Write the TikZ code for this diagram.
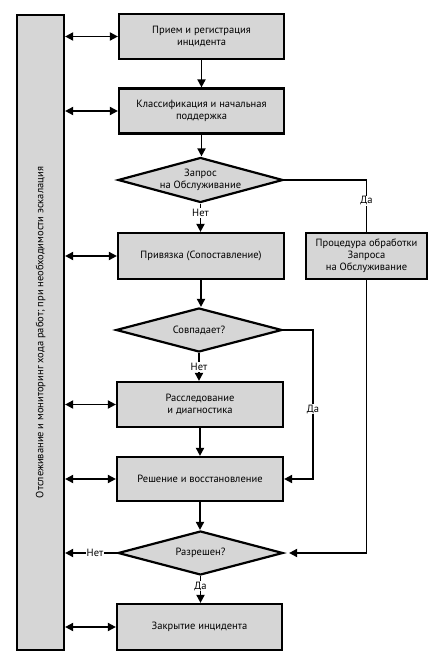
\documentclass[tikz,border=0pt]{standalone}
\usepackage{fontspec}
\setmainfont{PT Sans}
\usetikzlibrary{arrows.meta,shapes.geometric}
\definecolor{boxgray}{HTML}{D6D6D6}
\tikzset{
  procbox/.style={draw=black, line width=2.2pt, fill=boxgray, minimum width=165pt, minimum height=45pt, inner sep=0pt, align=center, font=\fontsize{10.5}{12}\selectfont},
  decbox/.style={draw=black, line width=2.2pt, fill=boxgray, shape=diamond, aspect=3.5, minimum width=165pt, minimum height=45pt, inner sep=0pt, align=center, font=\fontsize{10.5}{12}\selectfont},
  conn/.style={line width=1.8pt, -{Triangle[length=8pt,width=8pt]}},
  dconn/.style={line width=1.8pt, {Triangle[length=8pt,width=8pt]}-{Triangle[length=8pt,width=8pt]}},
  plainconn/.style={line width=1.8pt},
  lbl/.style={fill=white, inner sep=1pt, font=\fontsize{10.5}{12}\selectfont},
}
\begin{document}
\begin{tikzpicture}[x=1pt,y=-1pt]
\useasboundingbox (0,0) rectangle (435,660);
% left bar
\node[draw=black, line width=2.2pt, fill=boxgray, minimum width=47pt, minimum height=635pt, inner sep=0pt] (bar) at (40.5,332.5) {};
\node[rotate=90, font=\fontsize{10.5}{12}\selectfont] (bartext) at (40.5,332.5) {Отслеживание и мониторинг хода работ; при необходимости эскалация};
% main column
\node[procbox] (b1) at (201.5,36.5) {Прием и регистрация\\инцидента};
\node[procbox] (b2) at (201.5,111) {Классификация и начальная\\поддержка};
\node[decbox] (d1) at (200.5,180) {Запрос\\на Обслуживание};
\node[procbox, minimum width=166pt, minimum height=46pt] (b3) at (201,256) {Привязка (Сопоставление)};
\node[procbox, minimum width=121pt, minimum height=46pt] (pr) at (366.5,256) {Процедура обработки\\Запроса\\на Обслуживание};
\node[decbox, minimum width=166pt, minimum height=44pt] (d2) at (199,330) {Совпадает?};
\node[procbox, minimum width=166pt] (b4) at (200,404.5) {Расследование\\и диагностика};
\node[procbox, minimum width=166pt, minimum height=44pt] (b5) at (200,479) {Решение и восстановление};
\node[decbox, minimum height=44pt] (d3) at (200.5,553) {Разрешен?};
\node[procbox, minimum height=46pt] (b6) at (199.5,627) {Закрытие инцидента};
% vertical flow
\draw[conn] (b1.south) -- (b1.south |- b2.north);
\draw[conn] (b2.south) -- (b2.south |- d1.north);
\draw[conn] (d1.south) -- (d1.south |- b3.north);
\node[lbl] (n1) at (200.5,213) {Нет};
\draw[conn] (b3.south) -- (b3.south |- d2.north);
\draw[conn] (d2.south) -- (d2.south |- b4.north);
\node[lbl] (n2) at (199,367) {Нет};
\draw[conn] (b4.south) -- (b4.south |- b5.north);
\draw[conn] (b5.south) -- (b5.south |- d3.north);
\draw[conn] (d3.south) -- (d3.south |- b6.north);
\node[lbl] (y3) at (200.5,586) {Да};
% branches
\draw[plainconn] (d1.east) -- (pr.north |- d1.east) -- (pr.north);
\node[lbl] (y1) at (366.5,201) {Да};
\draw[conn, shorten >=5pt] (pr.south) -- (pr.south |- d3.east) -- (d3.east);
\coordinate (c2) at (313,330);
\draw[conn] (d2.east) -- (c2) -- (c2 |- b5.east) -- (b5.east);
\node[lbl] (y2) at (313,409) {Да};
\draw[conn] (d3.west) -- (d3.west -| bar.east);
\node[lbl] (n3) at (95,553) {Нет};
% bar connections
\draw[dconn] (b1.west -| bar.east) -- (b1.west);
\draw[dconn] (b2.west -| bar.east) -- (b2.west);
\draw[dconn] (b3.west -| bar.east) -- (b3.west);
\draw[dconn] (b4.west -| bar.east) -- (b4.west);
\draw[dconn] (b5.west -| bar.east) -- (b5.west);
\draw[dconn] (b6.west -| bar.east) -- (b6.west);
\end{tikzpicture}
\end{document}
